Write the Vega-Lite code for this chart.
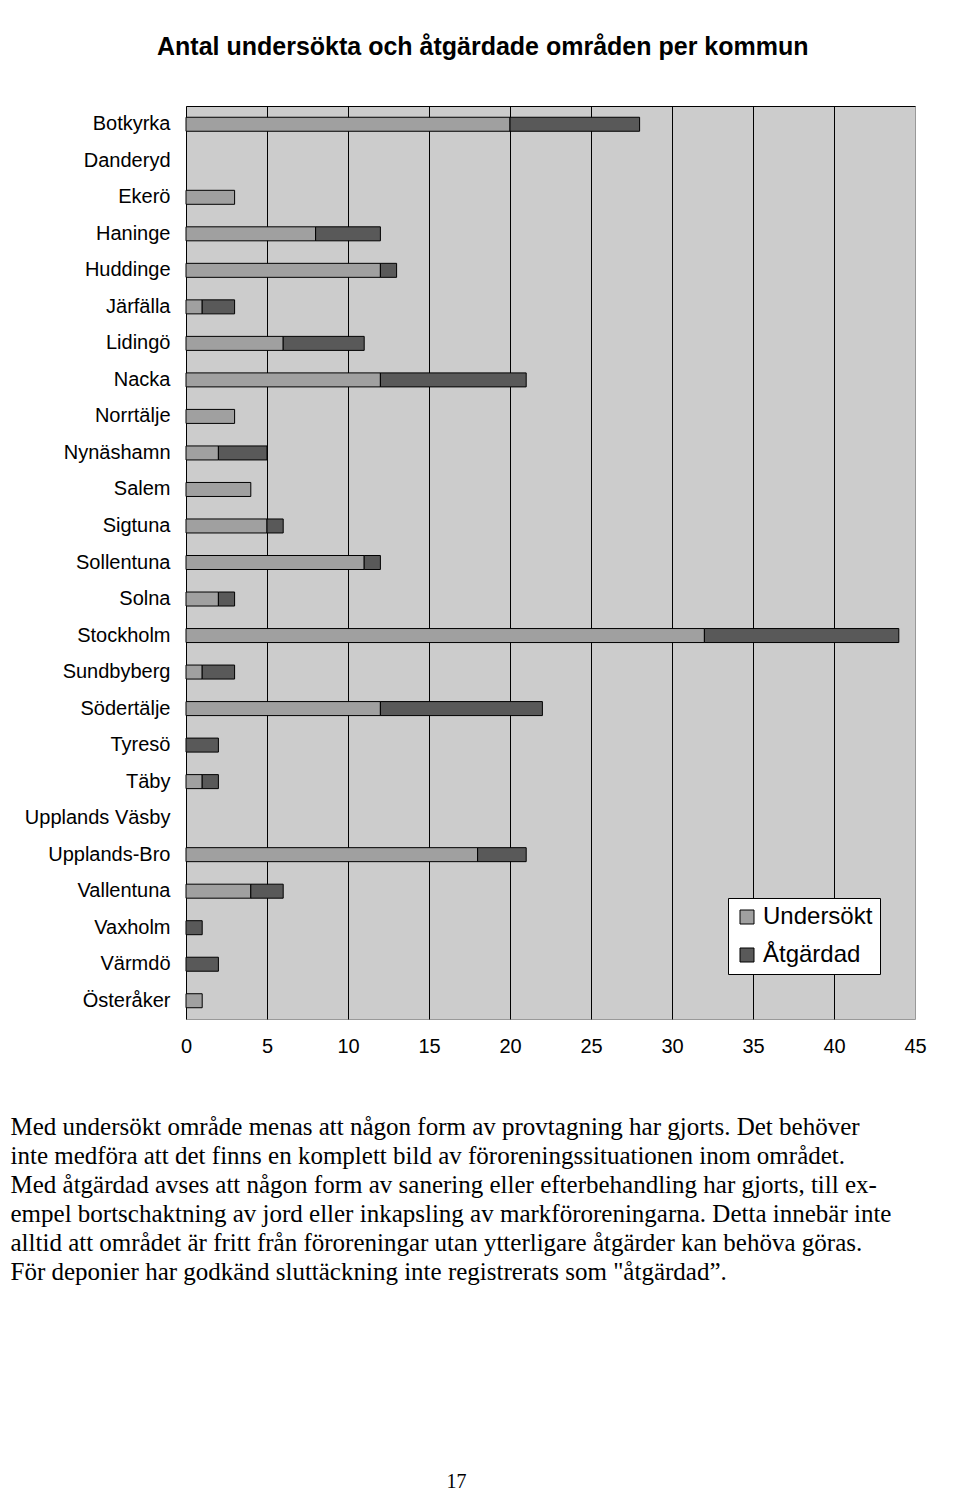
{
  "$schema": "https://vega.github.io/schema/vega-lite/v6.json",
  "width": 729,
  "height": 913,
  "autosize": {"type": "none"},
  "padding": {"left": 186, "top": 106, "right": 45, "bottom": 477},
  "background": "white",
  "title": {
    "text": "Antal undersökta och åtgärdade områden per kommun",
    "anchor": "start",
    "frame": "group",
    "dx": -29,
    "offset": 26,
    "baseline": "alphabetic",
    "font": "Liberation Sans",
    "fontSize": 25,
    "fontWeight": "bold",
    "color": "black"
  },
  "config": {
    "view": {"fill": "#cccccc", "stroke": "#999999", "strokeWidth": 1}
  },
  "data": {
    "values": [
      {"kommun": "Botkyrka", "typ": "Undersökt", "antal": 20},
      {"kommun": "Botkyrka", "typ": "Åtgärdad", "antal": 8},
      {"kommun": "Ekerö", "typ": "Undersökt", "antal": 3},
      {"kommun": "Haninge", "typ": "Undersökt", "antal": 8},
      {"kommun": "Haninge", "typ": "Åtgärdad", "antal": 4},
      {"kommun": "Huddinge", "typ": "Undersökt", "antal": 12},
      {"kommun": "Huddinge", "typ": "Åtgärdad", "antal": 1},
      {"kommun": "Järfälla", "typ": "Undersökt", "antal": 1},
      {"kommun": "Järfälla", "typ": "Åtgärdad", "antal": 2},
      {"kommun": "Lidingö", "typ": "Undersökt", "antal": 6},
      {"kommun": "Lidingö", "typ": "Åtgärdad", "antal": 5},
      {"kommun": "Nacka", "typ": "Undersökt", "antal": 12},
      {"kommun": "Nacka", "typ": "Åtgärdad", "antal": 9},
      {"kommun": "Norrtälje", "typ": "Undersökt", "antal": 3},
      {"kommun": "Nynäshamn", "typ": "Undersökt", "antal": 2},
      {"kommun": "Nynäshamn", "typ": "Åtgärdad", "antal": 3},
      {"kommun": "Salem", "typ": "Undersökt", "antal": 4},
      {"kommun": "Sigtuna", "typ": "Undersökt", "antal": 5},
      {"kommun": "Sigtuna", "typ": "Åtgärdad", "antal": 1},
      {"kommun": "Sollentuna", "typ": "Undersökt", "antal": 11},
      {"kommun": "Sollentuna", "typ": "Åtgärdad", "antal": 1},
      {"kommun": "Solna", "typ": "Undersökt", "antal": 2},
      {"kommun": "Solna", "typ": "Åtgärdad", "antal": 1},
      {"kommun": "Stockholm", "typ": "Undersökt", "antal": 32},
      {"kommun": "Stockholm", "typ": "Åtgärdad", "antal": 12},
      {"kommun": "Sundbyberg", "typ": "Undersökt", "antal": 1},
      {"kommun": "Sundbyberg", "typ": "Åtgärdad", "antal": 2},
      {"kommun": "Södertälje", "typ": "Undersökt", "antal": 12},
      {"kommun": "Södertälje", "typ": "Åtgärdad", "antal": 10},
      {"kommun": "Tyresö", "typ": "Åtgärdad", "antal": 2},
      {"kommun": "Täby", "typ": "Undersökt", "antal": 1},
      {"kommun": "Täby", "typ": "Åtgärdad", "antal": 1},
      {"kommun": "Upplands-Bro", "typ": "Undersökt", "antal": 18},
      {"kommun": "Upplands-Bro", "typ": "Åtgärdad", "antal": 3},
      {"kommun": "Vallentuna", "typ": "Undersökt", "antal": 4},
      {"kommun": "Vallentuna", "typ": "Åtgärdad", "antal": 2},
      {"kommun": "Vaxholm", "typ": "Åtgärdad", "antal": 1},
      {"kommun": "Värmdö", "typ": "Åtgärdad", "antal": 2},
      {"kommun": "Österåker", "typ": "Undersökt", "antal": 1}
    ]
  },
  "layer": [
    {
      "data": {"values": []},
      "mark": {"type": "rule"},
      "encoding": {
        "x": {
          "field": "antal",
          "type": "quantitative",
          "scale": {"domain": [0, 45], "nice": false, "zero": true},
          "axis": {
            "orient": "top",
            "values": [5, 10, 15, 20, 25, 30, 35, 40],
            "grid": true,
            "gridColor": "black",
            "gridWidth": 1,
            "gridOpacity": 1,
            "labels": false,
            "ticks": false,
            "domain": true,
            "domainColor": "black",
            "domainWidth": 1,
            "title": null
          }
        }
      }
    },
    {
      "mark": {"type": "bar", "size": 14, "stroke": "black", "strokeWidth": 1},
      "encoding": {
        "y": {
          "field": "kommun",
          "type": "nominal",
          "scale": {
            "domain": ["Botkyrka", "Danderyd", "Ekerö", "Haninge", "Huddinge", "Järfälla", "Lidingö", "Nacka", "Norrtälje", "Nynäshamn", "Salem", "Sigtuna", "Sollentuna", "Solna", "Stockholm", "Sundbyberg", "Södertälje", "Tyresö", "Täby", "Upplands Väsby", "Upplands-Bro", "Vallentuna", "Vaxholm", "Värmdö", "Österåker"],
            "paddingInner": 0,
            "paddingOuter": 0
          },
          "axis": {
            "ticks": false,
            "domain": true,
            "domainColor": "black",
            "grid": false,
            "labelFont": "Liberation Sans",
            "labelFontSize": 20,
            "labelColor": "black",
            "labelPadding": 16,
            "title": "17",
            "titleX": 270,
            "titleY": 1375,
            "titleAngle": 0,
            "titleAlign": "center",
            "titleBaseline": "middle",
            "titleFont": "Liberation Serif",
            "titleFontSize": 20,
            "titleFontWeight": "normal",
            "titleColor": "black"
          }
        },
        "x": {
          "field": "antal",
          "type": "quantitative",
          "aggregate": "sum",
          "stack": "zero",
          "scale": {"domain": [0, 45], "nice": false, "zero": true},
          "axis": {
            "orient": "bottom",
            "values": [0, 5, 10, 15, 20, 25, 30, 35, 40, 45],
            "grid": false,
            "ticks": false,
            "domain": false,
            "labelFont": "Liberation Sans",
            "labelFontSize": 20,
            "labelColor": "black",
            "labelPadding": 17,
            "labelFlush": false,
            "labelOverlap": false,
            "labelBound": false,
            "title": [
              "Med undersökt område menas att någon form av provtagning har gjorts. Det behöver",
              "inte medföra att det finns en komplett bild av föroreningssituationen inom området.",
              "Med åtgärdad avses att någon form av sanering eller efterbehandling har gjorts, till ex-",
              "empel bortschaktning av jord eller inkapsling av markföroreningarna. Detta innebär inte",
              "alltid att området är fritt från föroreningar utan ytterligare åtgärder kan behöva göras.",
              "För deponier har godkänd sluttäckning inte registrerats som \"åtgärdad”."
            ],
            "titleX": -176,
            "titleY": 95,
            "titleAlign": "left",
            "titleAnchor": "start",
            "titleBaseline": "top",
            "titleLineHeight": 29,
            "titleFont": "Liberation Serif",
            "titleFontSize": 25,
            "titleFontWeight": "normal",
            "titleColor": "black"
          }
        },
        "color": {
          "field": "typ",
          "type": "nominal",
          "scale": {"domain": ["Undersökt", "Åtgärdad"], "range": ["#a0a0a0", "#595959"]},
          "legend": {
            "orient": "none",
            "legendX": 542,
            "legendY": 792,
            "title": null,
            "fillColor": "white",
            "strokeColor": "black",
            "padding": 7,
            "symbolType": "square",
            "symbolSize": 196,
            "symbolStrokeColor": "black",
            "symbolStrokeWidth": 1,
            "symbolOpacity": 1,
            "labelFont": "Liberation Sans",
            "labelFontSize": 24,
            "labelColor": "black",
            "labelOffset": 4,
            "rowPadding": 14
          }
        },
        "order": {"field": "typ", "sort": "ascending"}
      }
    }
  ],
  "resolve": {"axis": {"x": "independent"}}
}
